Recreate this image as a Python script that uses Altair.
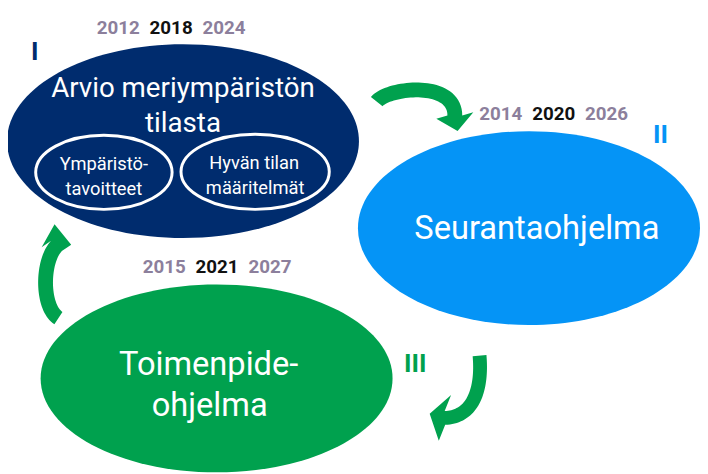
import altair as alt
import numpy as np
import pandas as pd

# ---------------- content ----------------
stage_numerals = ["I", "II", "III"]
stage_title_lines = [["Arvio meriympäristön", "tilasta"], ["Seurantaohjelma"], ["Toimenpide-", "ohjelma"]]
sub_title_lines = [["Ympäristö-", "tavoitteet"], ["Hyvän tilan", "määritelmät"]]
years_stage_I = [2012, 2018, 2024]
years_stage_II = [2014, 2020, 2026]
years_stage_III = [2015, 2021, 2027]
current_round_years = [2018, 2020, 2021]

# ---------------- styles ----------------
NAVY = "#002C6E"
BLUE = "#0594F6"
GREEN = "#00A14E"
GREY = "#8C7F9C"
BLACK = "#111111"
WHITE = "#FFFFFF"
FONT = "Roboto"

# ---------------- layout (pixel positions of the diagram) ----------------
big_ellipse = dict(cx=[185, 535, 219], cy=[140, 228, 380], rx=[178, 173, 178], ry=[98, 98, 95],
                   color=[NAVY, BLUE, GREEN])
small_ellipse = dict(cx=[105, 258], cy=[171.5, 171], rx=[69, 75], ry=[37.5, 38])

title_pos = [[(185, 95), (185, 131)], [(543, 239)], [(211, 377), (212, 418)]]
title_size = [28, 33, 33]
sub_pos = [[(105, 169), (105, 194)], [(257, 168), (258, 193)]]
sub_size = 18.5
year_rows = [(years_stage_I, 173, 32), (years_stage_II, 560, 119), (years_stage_III, 219.5, 273)]
year_step = 53.5
year_size = 19
numeral_pos = [(35, 58), (668, 142), (420, 374)]
numeral_color = [NAVY, BLUE, GREEN]

# curved arrows: cubic bezier centre-line, band width, head (angle deg, half width, length)
arrows = [
    dict(ctrl=[(381, 100), (392, 86), (460, 78), (460, 114)], w=15, ang=80, hw=19, L=16),
    dict(ctrl=[(485, 357), (488, 392), (478, 419), (450, 420)], w=14, ang=195, hw=24, L=16),
    dict(ctrl=[(59, 319), (42, 308), (42, 262), (57, 246)], w=15, ang=265, hw=15, L=22),
]


def ellipse_path(rx, ry):
    k = 0.5523
    return (f"M {-rx} 0 C {-rx} {-k*ry} {-k*rx} {-ry} 0 {-ry} "
            f"C {k*rx} {-ry} {rx} {-k*ry} {rx} 0 "
            f"C {rx} {k*ry} {k*rx} {ry} 0 {ry} "
            f"C {-k*rx} {ry} {-rx} {k*ry} {-rx} 0 Z")


def arrow_path(a, n=40):
    t = np.linspace(0, 1, n)[:, None]
    P0, P1, P2, P3 = [np.array(q, float) for q in a["ctrl"]]
    pts = (1 - t) ** 3 * P0 + 3 * t * (1 - t) ** 2 * P1 + 3 * t ** 2 * (1 - t) * P2 + t ** 3 * P3
    d = 3 * (1 - t) ** 2 * (P1 - P0) + 6 * t * (1 - t) * (P2 - P1) + 3 * t ** 2 * (P3 - P2)
    d = d / np.linalg.norm(d, axis=1, keepdims=True)
    nrm = np.stack([-d[:, 1], d[:, 0]], axis=1)
    outer = pts + nrm * a["w"] / 2
    inner = pts - nrm * a["w"] / 2
    base = pts[-1]
    th = np.radians(a["ang"])
    hd = np.array([np.cos(th), np.sin(th)])
    hn = np.array([-hd[1], hd[0]])
    if np.dot(hn, nrm[-1]) < 0:
        hn = -hn
    v1 = base + hn * a["hw"]
    tip = base + hd * a["L"]
    v2 = base - hn * a["hw"]
    poly = np.vstack([outer, v1, tip, v2, inner[::-1]])
    anchor = (poly.min(axis=0) + poly.max(axis=0)) / 2
    rel = poly - anchor
    s = "M " + " L ".join(f"{p[0]:.2f} {p[1]:.2f}" for p in rel) + " Z"
    return anchor, s


# ---------------- tables ----------------
ell_df = pd.DataFrame({
    "x": big_ellipse["cx"], "y": big_ellipse["cy"],
    "path": [ellipse_path(rx, ry) for rx, ry in zip(big_ellipse["rx"], big_ellipse["ry"])],
    "color": big_ellipse["color"],
})
ring_df = pd.DataFrame({
    "x": small_ellipse["cx"], "y": small_ellipse["cy"],
    "path": [ellipse_path(rx, ry) for rx, ry in zip(small_ellipse["rx"], small_ellipse["ry"])],
})
arr_rows = []
for a in arrows:
    anc, s = arrow_path(a)
    arr_rows.append({"x": anc[0], "y": anc[1], "path": s})
arr_df = pd.DataFrame(arr_rows)

title_rows = []
for lines, poss, fs in zip(stage_title_lines, title_pos, title_size):
    for line, (px, py) in zip(lines, poss):
        title_rows.append({"text": line, "x": px, "y": py, "size": fs})
for lines, poss in zip(sub_title_lines, sub_pos):
    for line, (px, py) in zip(lines, poss):
        title_rows.append({"text": line, "x": px, "y": py, "size": sub_size})
title_df = pd.DataFrame(title_rows)

year_rows_data = []
for yrs, cx, by in year_rows:
    for i, yv in enumerate(yrs):
        year_rows_data.append({"text": str(yv), "x": cx + (i - 1) * year_step, "y": by,
                               "color": BLACK if yv in current_round_years else GREY})
year_df = pd.DataFrame(year_rows_data)

num_df = pd.DataFrame({"text": stage_numerals, "x": [p[0] for p in numeral_pos],
                       "y": [p[1] for p in numeral_pos], "color": numeral_color})

# ---------------- encodings ----------------
X = alt.X("x:Q", scale=alt.Scale(domain=[8, 708], nice=False, zero=False), axis=None)
Y = alt.Y("y:Q", scale=alt.Scale(domain=[8, 474], nice=False, zero=False, reverse=True), axis=None)

ellipses = alt.Chart(ell_df).mark_point(filled=True, size=4, opacity=1, strokeWidth=0).encode(
    x=X, y=Y, shape=alt.Shape("path:N", scale=None), color=alt.Color("color:N", scale=None))

rings = alt.Chart(ring_df).mark_point(filled=False, size=4, opacity=1, strokeWidth=3, color=WHITE).encode(
    x=X, y=Y, shape=alt.Shape("path:N", scale=None))

arrow_marks = alt.Chart(arr_df).mark_point(filled=True, size=4, opacity=1, strokeWidth=0, color=GREEN).encode(
    x=X, y=Y, shape=alt.Shape("path:N", scale=None))

titles = alt.Chart(title_df).mark_text(font=FONT, color=WHITE, align="center", baseline="alphabetic").encode(
    x=X, y=Y, text="text:N", size=alt.Size("size:Q", scale=None))

years = alt.Chart(year_df).mark_text(font=FONT, fontSize=year_size, fontWeight="bold", align="center",
                                     baseline="alphabetic").encode(
    x=X, y=Y, text="text:N", color=alt.Color("color:N", scale=None))

numerals = alt.Chart(num_df).mark_text(font=FONT, fontSize=26, fontWeight="bold", align="center",
                                       baseline="alphabetic").encode(
    x=X, y=Y, text="text:N", color=alt.Color("color:N", scale=None))

chart = alt.layer(ellipses, rings, arrow_marks, titles, years, numerals).properties(
    width=700, height=466, padding=0, autosize="none", background="white"
).configure_view(strokeWidth=0)

chart.save("out.html", embed_options={"renderer": "svg", "actions": False})
